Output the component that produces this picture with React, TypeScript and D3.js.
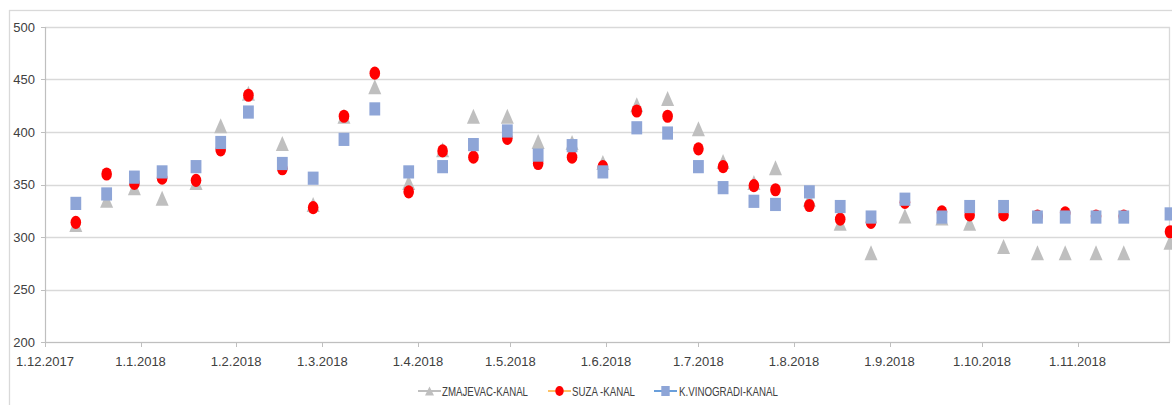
import React from "react";
import * as d3 from "d3";

// Sampling dates (d.m.yyyy read as ISO strings)
const dates: string[] = [
  "2017-12-11", "2017-12-21", "2017-12-30", "2018-01-08", "2018-01-19", "2018-01-27",
  "2018-02-05", "2018-02-16", "2018-02-26", "2018-03-08", "2018-03-18", "2018-03-29",
  "2018-04-09", "2018-04-19", "2018-04-30", "2018-05-10", "2018-05-21", "2018-05-31",
  "2018-06-11", "2018-06-21", "2018-07-01", "2018-07-09", "2018-07-19", "2018-07-26",
  "2018-08-06", "2018-08-16", "2018-08-26", "2018-09-06", "2018-09-18", "2018-09-27",
  "2018-10-08", "2018-10-19", "2018-10-28", "2018-11-07", "2018-11-16", "2018-12-01",
];

const zmajevac: number[] = [
  312, 335, 347, 337, 352, 406, 437, 389, 331, 415, 443, 352,
  383, 415, 415, 391, 390, 371, 426, 432, 403, 372, 352, 366,
  336, 313, 285, 320, 318, 313, 291, 285, 285, 285, 285, 295,
];

const suza: number[] = [
  314, 360, 351, 356, 354, 383, 435, 365, 328, 415, 456, 343,
  382, 376, 394, 370, 376, 367, 420, 415, 384, 367, 349, 345,
  330, 317, 314, 333, 324, 321, 321, 320, 323, 320, 320, 305,
];

const kVinogradi: number[] = [
  332, 341, 357, 362, 367, 390, 419, 370, 356, 393, 422, 362,
  367, 388, 401, 378, 387, 362, 404, 399, 367, 347, 334, 331,
  343, 329, 319, 336, 319, 329, 329, 319, 319, 319, 319, 322,
];

const seriesNames: string[] = ["ZMAJEVAC-KANAL", "SUZA -KANAL", "K.VINOGRADI-KANAL"];

const yTicks: number[] = [200, 250, 300, 350, 400, 450, 500];
const xTickDates: string[] = [
  "2017-12-01", "2018-01-01", "2018-02-01", "2018-03-01", "2018-04-01", "2018-05-01",
  "2018-06-01", "2018-07-01", "2018-08-01", "2018-09-01", "2018-10-01", "2018-11-01",
];
const xDomain: string[] = ["2017-12-01", "2018-12-01"];

const W = 1172;
const H = 405;
const plot = { left: 45, right: 1170, top: 27, bottom: 342 };

const FONT = "'Liberation Sans Narrow', 'Arial Narrow', 'Liberation Sans', Arial, sans-serif";
const TEXT = "#404040";
const GRID = "#D9D9D9";
const AXIS = "#BFBFBF";

const colors = {
  z: "#BFBFBF",
  s: "#FF0000",
  k: "#8EA5D7",
  sLine: "#FFC266",
  kLine: "#6A9FDB",
};

const parse = d3.timeParse("%Y-%m-%d");
const fmt = d3.timeFormat("%-d.%-m.%Y");

function triPath(cx: number, cy: number, w: number, h: number) {
  return `M${cx},${cy - h / 2}L${cx + w / 2},${cy + h / 2}L${cx - w / 2},${cy + h / 2}Z`;
}

export default function App() {
  const x = d3
    .scaleTime()
    .domain(xDomain.map((d) => parse(d) as Date))
    .range([plot.left, plot.right]);
  const y = d3.scaleLinear().domain([200, 500]).range([plot.bottom, plot.top]);

  const pts = dates.map((d, i) => ({
    x: x(parse(d) as Date),
    z: y(zmajevac[i]),
    s: y(suza[i]),
    k: y(kVinogradi[i]),
  }));

  const legendY = 391;
  const legendItems = [
    { lx: 418, tx: 442, tw: 86, line: colors.z, kind: "tri" },
    { lx: 548, tx: 572, tw: 63, line: colors.sLine, kind: "circle" },
    { lx: 654, tx: 679, tw: 99, line: colors.kLine, kind: "square" },
  ];

  return (
    <svg
      width={W}
      height={H}
      style={{ position: "absolute", left: 0, top: 0, background: "#fff" }}
      fontFamily={FONT}
    >
      <rect x={0} y={0} width={W} height={H} fill="#fff" />
      {/* chart frame */}
      <rect x={9.5} y={10.5} width={W + 20} height={H + 20} fill="none" stroke={GRID} strokeWidth={1.3} />

      {/* horizontal gridlines */}
      {yTicks.map((t) => (
        <line
          key={"g" + t}
          x1={plot.left}
          x2={plot.right}
          y1={Math.round(y(t)) + 0.5}
          y2={Math.round(y(t)) + 0.5}
          stroke={GRID}
          strokeWidth={1.3}
        />
      ))}

      {/* axes */}
      <line x1={plot.left + 0.5} x2={plot.left + 0.5} y1={plot.top} y2={plot.bottom} stroke={AXIS} strokeWidth={1.2} />
      <line x1={plot.right - 0.5} x2={plot.right - 0.5} y1={plot.top} y2={plot.bottom} stroke={GRID} strokeWidth={1.3} />
      <line x1={plot.left} x2={plot.right} y1={plot.bottom + 0.5} y2={plot.bottom + 0.5} stroke={AXIS} strokeWidth={1.2} />

      {yTicks.map((t) => (
        <g key={"yt" + t}>
          <line x1={plot.left - 4} x2={plot.left} y1={Math.round(y(t)) + 0.5} y2={Math.round(y(t)) + 0.5} stroke={AXIS} />
          <text x={35} y={y(t)} dy="0.35em" textAnchor="end" fontSize={13} fill={TEXT}>
            {t}
          </text>
        </g>
      ))}

      {xTickDates.map((d) => {
        const dt = parse(d) as Date;
        const xx = Math.round(x(dt)) + 0.5;
        return (
          <g key={"xt" + d}>
            <line x1={xx} x2={xx} y1={plot.bottom} y2={plot.bottom + 5} stroke={AXIS} />
            <text x={x(dt)} y={366} textAnchor="middle" fontSize={13} fill={TEXT}>
              {fmt(dt)}
            </text>
          </g>
        );
      })}

      {/* ZMAJEVAC-KANAL: triangles (drawn first, behind) */}
      {pts.map((p, i) => (
        <path key={"z" + i} d={triPath(p.x, p.z, 13, 15)} fill={colors.z} />
      ))}
      {/* SUZA -KANAL: circles */}
      {pts.map((p, i) => (
        <ellipse key={"s" + i} cx={p.x} cy={p.s} rx={5.3} ry={6.6} fill={colors.s} />
      ))}
      {/* K.VINOGRADI-KANAL: squares */}
      {pts.map((p, i) => (
        <rect key={"k" + i} x={p.x - 5.4} y={p.k - 6.6} width={10.8} height={13.2} fill={colors.k} />
      ))}

      {/* legend */}
      {legendItems.map((it, i) => {
        const cx = it.lx + 11.5;
        return (
          <g key={"lg" + i}>
            <line x1={it.lx} x2={it.lx + 23} y1={legendY} y2={legendY} stroke={it.line} strokeWidth={2} />
            {it.kind === "tri" && <path d={triPath(cx, legendY, 9, 9)} fill={colors.z} />}
            {it.kind === "circle" && <ellipse cx={cx} cy={legendY} rx={4.2} ry={5} fill={colors.s} />}
            {it.kind === "square" && <rect x={cx - 4.2} y={legendY - 5} width={8.4} height={10} fill={colors.k} />}
            <text
              x={it.tx}
              y={396}
              fontSize={13}
              fill={TEXT}
              textLength={it.tw}
              lengthAdjust="spacingAndGlyphs"
            >
              {seriesNames[i]}
            </text>
          </g>
        );
      })}
    </svg>
  );
}
